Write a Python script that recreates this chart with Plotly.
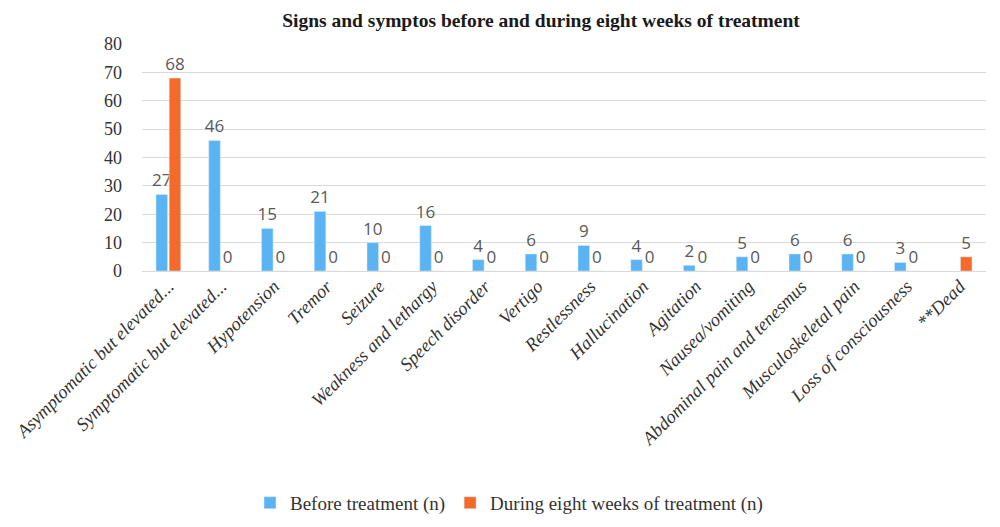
import plotly.graph_objects as go

categories = [
    "Asymptomatic but elevated...", "Symptomatic but elevated...", "Hypotension", "Tremor",
    "Seizure", "Weakness and lethargy", "Speech disorder", "Vertigo", "Restlessness",
    "Hallucination", "Agitation", "Nausea/vomiting", "Abdominal pain and tenesmus",
    "Musculoskeletal pain", "Loss of consciousness", "**Dead",
]
before = [27, 46, 15, 21, 10, 16, 4, 6, 9, 4, 2, 5, 6, 6, 3, None]
during = [68, 0, 0, 0, 0, 0, 0, 0, 0, 0, 0, 0, 0, 0, 0, 5]

blue = "#5AB4F4"
orange = "#F46A2B"
label_font = dict(family="Open Sans, Liberation Sans, sans-serif", size=17, color="#595959")
serif = "Liberation Serif, DejaVu Serif, serif"

fig = go.Figure()
fig.add_trace(go.Bar(
    name="Before treatment (n)", x=categories, y=before, marker_color=blue,
    text=[("" if v is None else str(v)) for v in before], textposition="outside",
    textfont=label_font, cliponaxis=False, constraintext="none",
))
fig.add_trace(go.Bar(
    name="During eight weeks of treatment (n)", x=categories, y=during, marker_color=orange,
    text=[str(v) for v in during], textposition="outside",
    textfont=label_font, cliponaxis=False, constraintext="none",
))

fig.update_layout(
    width=1000, height=527,
    paper_bgcolor="white", plot_bgcolor="white",
    margin=dict(l=134, r=22, t=36, b=264, autoexpand=False),
    barmode="group", bargap=0.5, bargroupgap=0.12,
    title=dict(
        text="<b>Signs and symptos before and during eight weeks of treatment</b>",
        x=0.533, xanchor="center", y=0.977, yanchor="middle",
        font=dict(family=serif, size=19.5, color="#1a1a1a"),
    ),
    legend=dict(
        orientation="h", xref="container", x=0.501, xanchor="center",
        yref="container", y=0.061, yanchor="middle",
        font=dict(family=serif, size=19, color="#333333"),
        itemwidth=30, traceorder="normal",
    ),
)
fig.update_xaxes(
    tickangle=-45, showgrid=False, showline=False, automargin=False,
    tickfont=dict(family=serif, size=18.5, color="#333333", style="italic"),
)
fig.update_yaxes(
    range=[0, 80], dtick=10, showgrid=True, gridcolor="#D9D9D9", gridwidth=1,
    zeroline=True, zerolinecolor="#D9D9D9", zerolinewidth=1, automargin=False,
    tickfont=dict(family=serif, size=18, color="#333333"),
    ticklabelstandoff=19,
)

fig.write_html("out.html")
